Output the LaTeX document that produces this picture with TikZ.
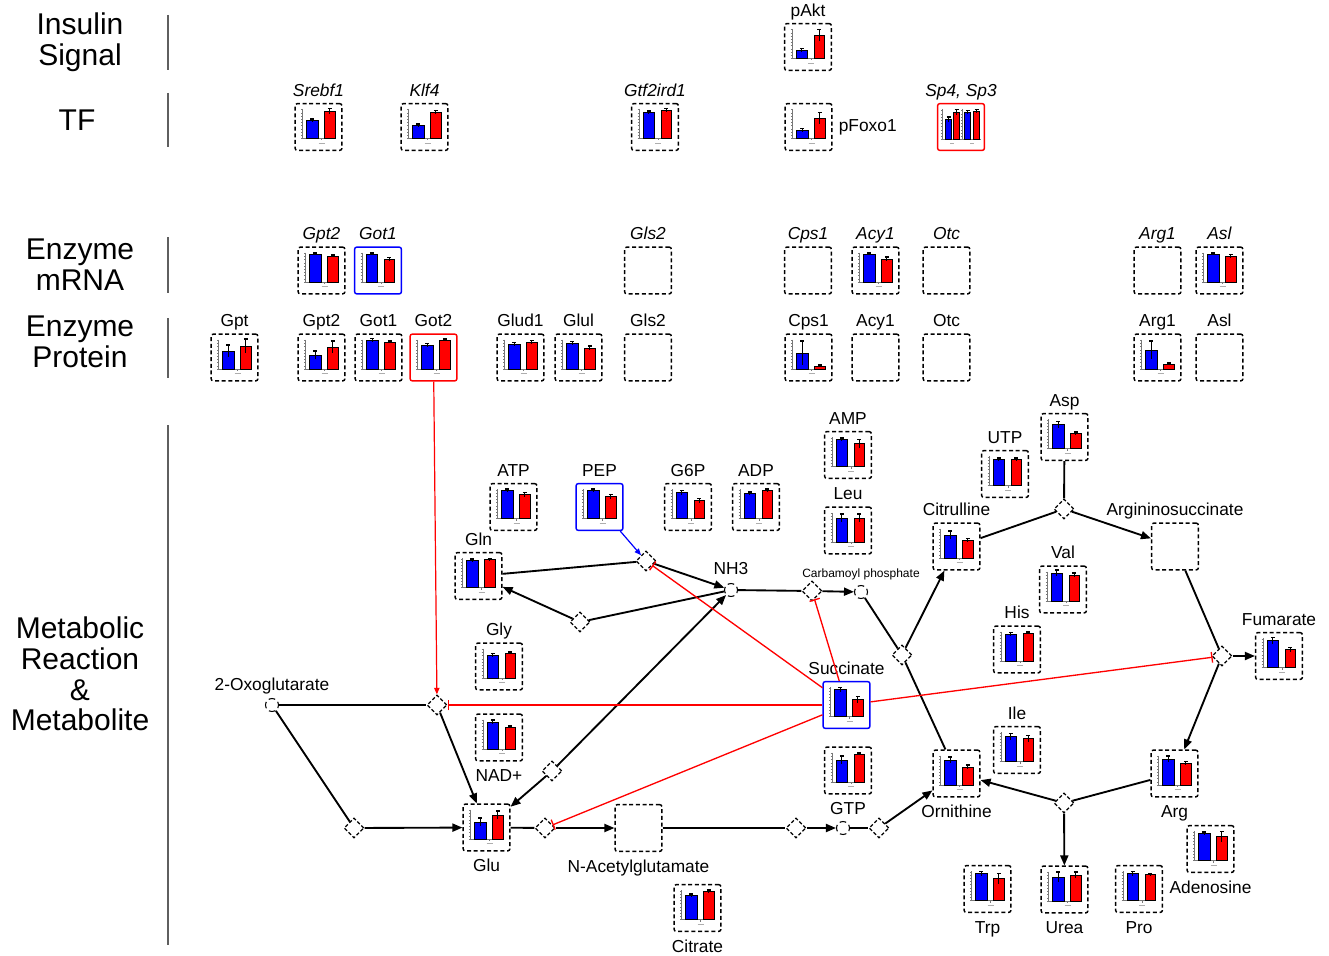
\documentclass[tikz,border=0pt]{standalone}
\usepackage{fontspec}
\setmainfont{Liberation Sans}
\usetikzlibrary{shapes.geometric,arrows.meta,calc}

\definecolor{sepgray}{RGB}{95,95,95}
\definecolor{axgray}{RGB}{120,120,120}

\tikzset{
  box/.style={draw=black, dash pattern=on 3pt off 2pt, line width=1.1pt,
    minimum size=35pt, inner sep=0pt, rounded corners=1.5pt, fill=white},
  redbox/.style={solid, draw=red},
  bluebox/.style={solid, draw=blue},
  rxn/.style={diamond, draw=black, dash pattern=on 2.6pt off 1.6pt, line width=1pt,
    minimum width=15pt, minimum height=15pt, inner sep=0pt, fill=white},
  met/.style={circle, draw=black, minimum size=9.75pt, inner sep=0pt, line width=0.8pt,
    dash pattern=on 5pt off 2.65pt, dash phase=2.5pt, fill=white},
  flow/.style={draw=black, line width=1.4pt},
  arr/.style={flow, -{Triangle[length=7.5pt,width=6pt]}},
  redarr/.style={draw=red, line width=0.9pt, -{Triangle[length=5pt,width=4pt]}},
  bluearr/.style={draw=blue, line width=0.9pt, -{Triangle[length=5pt,width=4pt]}},
  inh/.style={draw=red, line width=1pt, -{Bar[width=8pt]}},
  lbl/.style={font=\fontsize{13}{15}\selectfont, inner sep=0pt},
  small/.style={font=\fontsize{9}{11}\selectfont, inner sep=0pt},
  sec/.style={font=\fontsize{22.5}{23}\selectfont, align=center, inner sep=0pt},
  sepline/.style={draw=sepgray, line width=1.5pt},
  axisline/.style={draw=axgray, line width=0.3pt},
  barb/.style={fill=blue, draw=black, line width=0.5pt},
  barr/.style={fill=red, draw=black, line width=0.5pt},
  errl/.style={draw=black, line width=0.8pt},
}

% error bar: x, top of bar, half length
\newcommand\errbar[3]{%
  \draw[errl] (#1,{#2-#3}) -- (#1,{#2+#3});
  \draw[errl] ({#1-2},{#2-#3}) -- ({#1+2},{#2-#3});}

% small bar plot (blue/red) around the current origin
\newcommand\plotpair[4]{%
  \draw[axisline] (-16,-18) -- (-16,11.5) -- (17,11.5);
  \foreach \k in {0,...,9} \draw[axisline] (-17.5,{11.5-3.2*\k}) -- (-16,{11.5-3.2*\k});
  \draw[axisline] (3,11.5) -- (3,13.5);
  \draw[draw=axgray!60, line width=0.6pt] (0,16) -- (6,16);
  \draw[barb] (-12,11.5) rectangle (-0.5,{11.5-#1});
  \draw[barr] (6,11.5) rectangle (16.5,{11.5-#3});
  \errbar{-6.25}{11.5-#1}{#2}
  \errbar{11.25}{11.5-#3}{#4}}

% name, x, y, border style, blue height, blue error, red height, red error
\newcommand\chartbox[8]{%
  \node[box,#4] (#1) at (#2,#3) {};
  \begin{scope}[shift={(#2,#3)}]\plotpair{#5}{#6}{#7}{#8}\end{scope}}

\newcommand\tagabove[2]{\node[lbl,anchor=base] (#1-t) at ([yshift=4.9pt]#1.north) {#2};}
\newcommand\tagbelow[2]{\node[lbl,anchor=north,text height=9.4pt] (#1-t) at ([yshift=-5.5pt]#1.south) {#2};}

\begin{document}
\begin{tikzpicture}[x=0.75pt,y=-0.75pt]
\useasboundingbox (0,0) rectangle (1329,956);

% ---------- row titles and separators ----------
\node[sec] (h-ins) at (80,42) {Insulin\\Signal};
\node[sec] (h-tf) at (77,120) {TF};
\node[sec] (h-mrna) at (80,265) {Enzyme\\mRNA};
\node[sec] (h-prot) at (80,342) {Enzyme\\Protein};
\node[sec] (h-met) at (80,674) {Metabolic\\Reaction\\\&\\Metabolite};
\draw[sepline] (168,15) -- (168,70);
\draw[sepline] (168,93) -- (168,147);
\draw[sepline] (168,237) -- (168,293);
\draw[sepline] (168,318) -- (168,378);
\draw[sepline] (168,425) -- (168,945);

% ---------- insulin signal ----------
\chartbox{pakt}{808}{47}{}{8}{2}{23}{6}
\tagabove{pakt}{pAkt}

% ---------- transcription factors ----------
\chartbox{srebf1}{318.5}{127}{}{18}{1.5}{27}{3}
\tagabove{srebf1}{\textit{Srebf1}}
\chartbox{klf4}{424.5}{127}{}{13}{1.5}{26}{2}
\tagabove{klf4}{\textit{Klf4}}
\chartbox{gtf}{655}{127}{}{26}{1.5}{28}{2}
\tagabove{gtf}{\textit{Gtf2ird1}}
\chartbox{pfoxo1}{808.5}{127}{}{8}{2}{20}{6}
\node[lbl,anchor=west] (pfoxo1-t) at ([xshift=4.5pt]pfoxo1.east) {pFoxo1};
\node[box,redbox] (sp) at (961,127) {};
\begin{scope}[shift={(961,127)}]
  \draw[axisline] (-18.5,-18) -- (-18.5,12.5) -- (-0.5,12.5);
  \draw[axisline] (1.5,-18) -- (1.5,12.5) -- (19.5,12.5);
  \foreach \k in {0,...,9} {
    \draw[axisline] (-19.8,{12.5-3.2*\k}) -- (-18.5,{12.5-3.2*\k});
    \draw[axisline] (0.2,{12.5-3.2*\k}) -- (1.5,{12.5-3.2*\k});}
  \draw[draw=axgray!60, line width=0.6pt] (-11,16) -- (-7,16);
  \draw[draw=axgray!60, line width=0.6pt] (9,16) -- (13,16);
  \draw[barb] (-15.5,12.5) rectangle (-9.5,-7.5);
  \draw[barr] (-7.5,12.5) rectangle (-1.5,-14.5);
  \draw[barb] (3.5,12.5) rectangle (9.5,-14.5);
  \draw[barr] (12.5,12.5) rectangle (18.5,-15.5);
  \errbar{-12.5}{-7.5}{2.5}
  \errbar{-4.5}{-14.5}{3}
  \errbar{6.5}{-14.5}{2}
  \errbar{15.5}{-15.5}{2}
\end{scope}
\tagabove{sp}{\textit{Sp4, Sp3}}

% ---------- enzyme mRNA ----------
\chartbox{m-gpt2}{321.5}{270.5}{}{28}{1}{26}{1}
\tagabove{m-gpt2}{\textit{Gpt2}}
\chartbox{m-got1}{378}{270.5}{bluebox}{28}{1}{23}{1.5}
\tagabove{m-got1}{\textit{Got1}}
\node[box] (m-gls2) at (648,270.5) {};
\tagabove{m-gls2}{\textit{Gls2}}
\node[box] (m-cps1) at (808,270.5) {};
\tagabove{m-cps1}{\textit{Cps1}}
\chartbox{m-acy1}{875.5}{270.5}{}{28}{1}{23}{2}
\tagabove{m-acy1}{\textit{Acy1}}
\node[box] (m-otc) at (946.5,270.5) {};
\tagabove{m-otc}{\textit{Otc}}
\node[box] (m-arg1) at (1157.5,270.5) {};
\tagabove{m-arg1}{\textit{Arg1}}
\chartbox{m-asl}{1219.5}{270.5}{}{28}{1}{26}{1.5}
\tagabove{m-asl}{\textit{Asl}}

% ---------- enzyme protein ----------
\chartbox{p-gpt}{234.5}{357.5}{}{18}{6}{23}{7}
\tagabove{p-gpt}{Gpt}
\chartbox{p-gpt2}{321.5}{357.5}{}{14}{4}{22}{6}
\tagabove{p-gpt2}{Gpt2}
\chartbox{p-got1}{378.5}{357.5}{}{29}{1.5}{27}{1}
\tagabove{p-got1}{Got1}
\chartbox{p-got2}{433.5}{357.5}{redbox}{24}{1.5}{29}{1}
\tagabove{p-got2}{Got2}
\chartbox{p-glud1}{520.5}{357.5}{}{25}{1.5}{27}{1.5}
\tagabove{p-glud1}{Glud1}
\chartbox{p-glul}{578.5}{357.5}{}{26}{1.5}{21}{2}
\tagabove{p-glul}{Glul}
\node[box] (p-gls2) at (648,357.5) {};
\tagabove{p-gls2}{Gls2}
\chartbox{p-cps1}{808.5}{357.5}{}{16}{12}{3}{1}
\tagabove{p-cps1}{Cps1}
\node[box] (p-acy1) at (875.5,357.5) {};
\tagabove{p-acy1}{Acy1}
\node[box] (p-otc) at (946.5,357.5) {};
\tagabove{p-otc}{Otc}
\chartbox{p-arg1}{1157.5}{357.5}{}{19}{9}{5}{1}
\tagabove{p-arg1}{Arg1}
\node[box] (p-asl) at (1219.5,357.5) {};
\tagabove{p-asl}{Asl}

% ---------- metabolites ----------
\chartbox{atp}{513.5}{507}{}{28}{1.5}{24}{2}
\tagabove{atp}{ATP}
\chartbox{pep}{599.5}{507}{bluebox}{28}{1.5}{22}{2}
\tagabove{pep}{PEP}
\chartbox{g6p}{688}{507}{}{26}{2}{18}{2}
\tagabove{g6p}{G6P}
\chartbox{adp}{756}{507}{}{25}{1.5}{28}{1.5}
\tagabove{adp}{ADP}
\chartbox{amp}{848}{455}{}{27}{1.5}{23}{4}
\tagabove{amp}{AMP}
\chartbox{leu}{848}{530.5}{}{24}{4}{24}{4}
\tagabove{leu}{Leu}
\chartbox{utp}{1005}{474}{}{26}{1.5}{26}{1.5}
\tagabove{utp}{UTP}
\chartbox{asp}{1064.5}{437}{}{24}{3}{15}{1.5}
\tagabove{asp}{Asp}
\chartbox{cit}{956.5}{546.5}{}{23}{4}{18}{1.5}
\tagabove{cit}{Citrulline}
\node[box] (asuc) at (1175,546.5) {};
\tagabove{asuc}{Argininosuccinate}
\chartbox{val}{1063}{589.5}{}{28}{3}{26}{2}
\tagabove{val}{Val}
\chartbox{his}{1017}{649.5}{}{27}{1.5}{28}{1}
\tagabove{his}{His}
\chartbox{gln}{478.5}{576}{}{27}{1.5}{28}{1}
\tagabove{gln}{Gln}
\chartbox{gly}{499}{666.5}{}{23}{1.5}{25}{1}
\tagabove{gly}{Gly}
\chartbox{nad}{499}{737.5}{}{27}{2}{22}{1}
\tagbelow{nad}{NAD+}
\chartbox{suc}{846.5}{705}{bluebox}{27}{2}{17}{3}
\tagabove{suc}{Succinate}
\chartbox{gtp}{848}{770.5}{}{22}{4}{28}{1}
\tagbelow{gtp}{GTP}
\chartbox{ile}{1017}{750}{}{25}{3}{23}{3}
\tagabove{ile}{Ile}
\chartbox{orn}{956.5}{773.5}{}{25}{3}{18}{2}
\tagbelow{orn}{Ornithine}
\chartbox{arg}{1174.5}{773.5}{}{26}{3}{22}{1.5}
\tagbelow{arg}{Arg}
\chartbox{fum}{1279}{656}{}{27}{3}{18}{2}
\tagabove{fum}{Fumarate}
\chartbox{ado}{1210.5}{849}{}{27}{1.5}{24}{5}
\tagbelow{ado}{Adenosine}
\chartbox{trp}{987.5}{889}{}{27}{2}{22}{5}
\tagbelow{trp}{Trp}
\chartbox{urea}{1064.5}{889.5}{}{24}{5}{26}{3}
\tagbelow{urea}{Urea}
\chartbox{pro}{1139}{889}{}{27}{2}{26}{1}
\tagbelow{pro}{Pro}
\chartbox{glu}{486.5}{827.5}{}{17}{4}{24}{4}
\tagbelow{glu}{Glu}
\node[box] (nag) at (638.5,828) {};
\tagbelow{nag}{N-Acetylglutamate}
\chartbox{citr}{697.5}{908}{}{24}{1.5}{28}{1.5}
\tagbelow{citr}{Citrate}

% small metabolite nodes
\node[met] (oxo) at (272,705) {};
\node[lbl,anchor=base] (oxo-t) at ([yshift=5.6pt]oxo.north) {2-Oxoglutarate};
\node[met] (nh3) at (731,590) {};
\node[lbl,anchor=base] (nh3-t) at ([yshift=6.2pt]nh3.north) {NH3};
\node[met] (cp) at (861,592) {};
\node[small,anchor=base] (cp-t) at ([yshift=5.6pt]cp.north) {Carbamoyl phosphate};
\node[met] (cgtp) at (843,828) {};

% reaction nodes
\node[rxn] (d1) at (437,705) {};
\node[rxn] (d2) at (354,828) {};
\node[rxn] (d3) at (545,828) {};
\node[rxn] (d4) at (552,771) {};
\node[rxn] (d5) at (580,622) {};
\node[rxn] (d6) at (646,561) {};
\node[rxn] (d7) at (812,591) {};
\node[rxn] (d8) at (796,828) {};
\node[rxn] (d9) at (879,828) {};
\node[rxn] (d10) at (902,655) {};
\node[rxn] (d11) at (1064,509) {};
\node[rxn] (d12) at (1222,656) {};
\node[rxn] (d13) at (1064,803) {};

% ---------- reactions ----------
\draw[flow] (oxo) -- (d1);
\draw[flow] (oxo) -- (d2);
\draw[arr] (d2) -- (glu);
\draw[arr] (d1) -- (glu);
\draw[arr] (d4) -- (glu);
\draw[arr] (d4) -- (nh3);
\draw[flow] (glu) -- (d3);
\draw[arr] (d3) -- (nag);
\draw[flow] (nag) -- (d8);
\draw[arr] (d8) -- (cgtp);
\draw[flow] (cgtp) -- (d9);
\draw[arr] (d9) -- (orn);
\draw[flow] (gln) -- (d6);
\draw[arr] (d6) -- (nh3);
\draw[arr] (d5) -- (gln);
\draw[flow] (d5) -- (nh3);
\draw[flow] (nh3) -- (d7);
\draw[arr] (d7) -- (cp);
\draw[flow] (cp) -- (d10);
\draw[arr] (d10) -- (cit);
\draw[flow] (orn) -- (d10);
\draw[flow] (cit) -- (d11);
\draw[flow] (asp) -- (d11);
\draw[arr] (d11) -- (asuc);
\draw[flow] (asuc) -- (d12);
\draw[arr] (d12) -- (fum);
\draw[arr] (d12) -- (arg);
\draw[flow] (arg) -- (d13);
\draw[arr] (d13) -- (orn);
\draw[arr] (d13) -- (urea);

% ---------- regulation ----------
\draw[redarr] (p-got2) -- (d1);
\draw[bluearr] (pep) -- (d6);
\draw[inh] (suc) -- (d6);
\draw[inh] (suc) -- (d7);
\draw[inh] (suc) -- (d1);
\draw[inh] (suc) -- (d3);
\draw[inh] (suc) -- (d12);
\end{tikzpicture}
\end{document}
